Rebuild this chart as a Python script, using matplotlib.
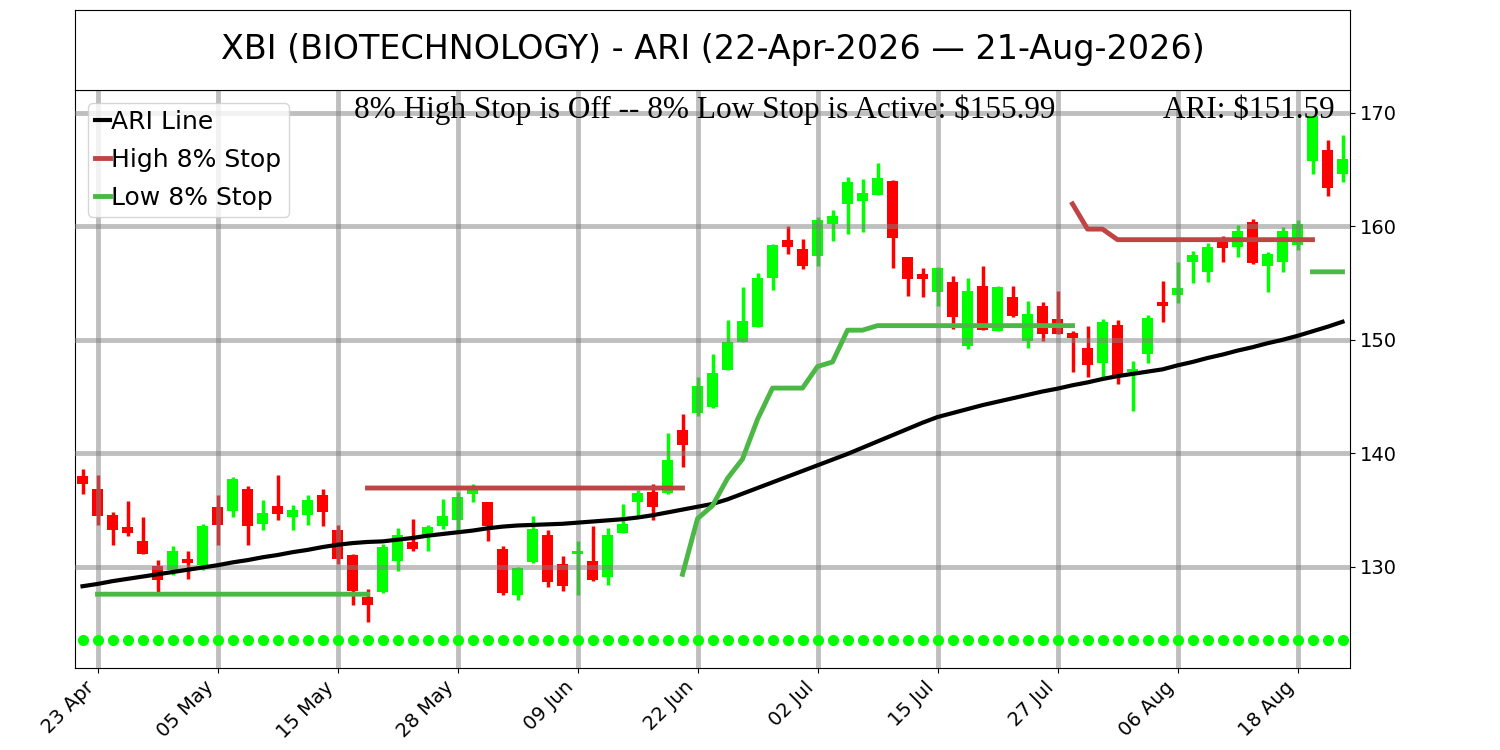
import numpy as np
import pandas as pd
import matplotlib
matplotlib.use('Agg')
import matplotlib.pyplot as plt

# trading days 22-Apr-2026 .. 21-Aug-2026 (US market holidays removed)
holidays = ['2026-05-25', '2026-06-19', '2026-07-03']
dates = pd.bdate_range('2026-04-22', '2026-08-21', freq='C', holidays=holidays)

title = 'XBI (BIOTECHNOLOGY) - ARI (22-Apr-2026 \u2014 21-Aug-2026)'

opens = [138.04, 136.89, 134.60, 133.55, 132.32, 130.12, 129.77, 130.73, 130.21, 135.25,
         134.90, 136.89, 133.81, 135.34, 134.37, 134.55, 136.36, 133.28, 131.03, 127.36,
         127.77, 130.56, 132.20, 132.79, 133.58, 134.16, 136.45, 135.72, 131.58, 127.51,
         130.41, 132.84, 130.29, 131.14, 130.56, 129.09, 132.99, 135.69, 136.57, 136.51,
         142.08, 143.55, 144.05, 147.37, 149.85, 151.17, 155.47, 158.83, 157.98, 157.40,
         160.18, 161.99, 162.19, 162.78, 163.95, 157.25, 155.79, 154.18, 155.09, 149.50,
         154.76, 150.79, 153.74, 149.94, 152.94, 151.85, 150.59, 149.32, 147.94, 151.32,
         147.15, 148.74, 153.29, 153.91, 156.82, 155.94, 158.68, 158.15, 160.38, 156.53,
         156.82, 158.32, 165.79, 166.76, 164.56]
highs = [138.65, 138.12, 134.84, 135.84, 134.43, 130.65, 131.88, 131.44, 133.81, 136.36,
         137.95, 137.16, 135.92, 138.12, 135.48, 136.36, 136.89, 133.67, 131.10, 128.09,
         132.02, 133.43, 134.25, 133.72, 136.01, 136.57, 137.33, 135.75, 131.88, 130.00,
         134.52, 133.28, 131.00, 132.32, 133.64, 133.43, 135.57, 136.80, 137.33, 141.79,
         143.49, 146.72, 148.77, 151.75, 154.68, 155.85, 158.45, 160.00, 158.92, 160.82,
         161.46, 164.33, 164.12, 165.58, 164.09, 157.30, 156.30, 156.38, 155.65, 155.44,
         156.53, 154.76, 154.76, 153.44, 153.29, 154.26, 150.82, 151.18, 151.85, 151.76,
         148.12, 152.21, 155.15, 156.85, 157.85, 158.53, 159.18, 160.15, 160.68, 157.74,
         159.91, 160.59, 169.75, 167.56, 168.00]
lows = [136.45, 133.67, 131.96, 132.70, 131.10, 127.77, 129.33, 128.97, 129.77, 131.96,
        134.37, 131.96, 133.28, 134.16, 133.28, 133.72, 133.58, 130.29, 126.69, 125.13,
        127.70, 129.68, 131.44, 131.44, 133.37, 133.20, 135.69, 132.26, 127.57, 127.13,
        130.35, 128.21, 127.86, 127.57, 128.80, 128.45, 132.95, 134.52, 134.16, 136.42,
        138.77, 143.26, 144.00, 147.30, 149.80, 151.10, 154.39, 157.54, 156.23, 156.52,
        158.71, 159.36, 159.50, 162.75, 156.29, 153.89, 153.81, 152.94, 150.97, 149.21,
        150.85, 150.75, 152.00, 149.32, 149.91, 150.50, 147.21, 146.71, 146.71, 146.09,
        143.76, 148.00, 151.53, 153.24, 155.00, 155.06, 156.82, 157.26, 156.68, 154.18,
        155.94, 157.94, 164.56, 162.65, 163.88]
closes = [137.30, 134.46, 133.23, 132.96, 131.14, 128.83, 131.44, 130.35, 133.64, 133.72,
          137.77, 133.58, 134.75, 134.69, 135.04, 135.92, 134.81, 130.70, 127.86, 126.69,
          131.76, 132.84, 131.61, 133.49, 134.52, 136.13, 136.80, 133.58, 127.71, 129.91,
          133.34, 128.65, 128.36, 131.44, 128.83, 132.84, 133.78, 136.51, 135.28, 139.44,
          140.76, 145.95, 147.07, 149.80, 151.67, 155.41, 158.39, 158.19, 156.52, 160.53,
          160.88, 163.89, 162.95, 164.27, 159.01, 155.32, 155.40, 156.32, 151.97, 154.32,
          150.88, 154.62, 152.06, 152.29, 150.50, 150.53, 150.15, 147.79, 151.56, 146.91,
          147.42, 151.91, 152.94, 154.56, 157.50, 158.15, 158.09, 159.56, 156.76, 157.56,
          159.62, 160.21, 169.71, 163.38, 165.88]

ari = [128.30, 128.50, 128.75, 128.95, 129.15, 129.35, 129.55, 129.75, 129.95, 130.15,
       130.40, 130.60, 130.85, 131.05, 131.30, 131.50, 131.75, 131.95, 132.10, 132.20,
       132.25, 132.40, 132.55, 132.75, 132.90, 133.05, 133.20, 133.40, 133.55, 133.65,
       133.70, 133.75, 133.80, 133.90, 134.00, 134.10, 134.20, 134.35, 134.55, 134.80,
       135.05, 135.30, 135.55, 135.95, 136.45, 136.95, 137.45, 137.95, 138.45, 138.95,
       139.45, 139.95, 140.50, 141.05, 141.60, 142.15, 142.70, 143.20, 143.55, 143.90,
       144.25, 144.55, 144.85, 145.15, 145.45, 145.70, 146.00, 146.25, 146.55, 146.80,
       147.00, 147.20, 147.40, 147.75, 148.05, 148.40, 148.70, 149.05, 149.35, 149.70,
       150.00, 150.35, 150.75, 151.15, 151.59]

n = np.nan
high_stop = [n, n, n, n, n, n, n, n, n, n,
             n, n, n, n, n, n, n, n, n, 136.95,
             136.95, 136.95, 136.95, 136.95, 136.95, 136.95, 136.95, 136.95, 136.95, 136.95,
             136.95, 136.95, 136.95, 136.95, 136.95, 136.95, 136.95, 136.95, 136.95, 136.95,
             136.95, n, n, n, n, n, n, n, n, n,
             n, n, n, n, n, n, n, n, n, n,
             n, n, n, n, n, n, 161.97, 159.75, 159.75, 158.82,
             158.82, 158.82, 158.82, 158.82, 158.82, 158.82, 158.82, 158.82, 158.82, 158.82,
             158.82, 158.82, 158.82, n, n]
low_stop = [n, 127.60, 127.60, 127.60, 127.60, 127.60, 127.60, 127.60, 127.60, 127.60,
            127.60, 127.60, 127.60, 127.60, 127.60, 127.60, 127.60, 127.60, 127.60, 127.60,
            n, n, n, n, n, n, n, n, n, n,
            n, n, n, n, n, n, n, n, n, n,
            129.35, 134.25, 135.40, 137.80, 139.50, 143.00, 145.75, 145.75, 145.75, 147.65,
            148.05, 150.85, 150.85, 151.25, 151.25, 151.25, 151.25, 151.25, 151.25, 151.25,
            151.25, 151.25, 151.25, 151.25, 151.25, 151.25, 151.25, n, n, n,
            n, n, n, n, n, n, n, n, n, n,
            n, n, 155.99, 155.99, 155.99]

dots_level = 123.6

x = np.arange(len(dates))
o = np.array(opens)
c = np.array(closes)
up = c >= o
colors = np.where(up, '#00ff00', '#ff0000')

fig = plt.figure(figsize=(15, 7.5), dpi=100)
ax = fig.add_axes([0.05, 0.10933, 0.85, 0.77067])

# candles
ax.vlines(x, lows, highs, colors=colors, linewidth=2.5, zorder=1)
ax.bar(x, np.abs(c - o), bottom=np.minimum(o, c), width=0.7, color=colors, zorder=1.5)

ax.plot(x, ari, color='black', linewidth=3, label='ARI Line', zorder=3)
ax.plot(x, high_stop, color='#bf4545', linewidth=3.5, label='High 8% Stop', zorder=3)
ax.plot(x, low_stop, color='#4bb846', linewidth=3.5, label='Low 8% Stop', zorder=3)
ax.plot(x, [dots_level] * len(x), 'o', color='#00ff00', markersize=7, zorder=3)

ax.set_xlim(-0.5, len(x) - 0.5)
ax.set_ylim(121.1, 172.0)

tick_idx = list(range(1, len(x), 8))
ax.set_xticks(tick_idx)
ax.set_xticklabels([dates[i].strftime('%d %b') for i in tick_idx],
                   rotation=45, ha='right', fontsize=14)
ax.yaxis.tick_right()
ax.set_yticks([130, 140, 150, 160, 170])
ax.tick_params(axis='y', labelsize=14)

ax.set_axisbelow(False)
ax.grid(True, color='gray', alpha=0.5, linewidth=3.5)

ax.legend(loc='upper left', fontsize=18, handlelength=0.6, handletextpad=0.05,
          labelspacing=0.55, borderpad=0.3)

low_last = [v for v in low_stop if not np.isnan(v)][-1]
ax.text(0.494, 0.9516, f'8% High Stop is Off -- 8% Low Stop is Active: ${low_last:.2f}',
        transform=ax.transAxes, ha='center', va='baseline', fontsize=22.5,
        family='Liberation Serif', zorder=4)
ax.text(0.988, 0.9516, f'ARI: ${ari[-1]:.2f}', transform=ax.transAxes,
        ha='right', va='baseline', fontsize=22.5, family='Liberation Serif', zorder=4)

# title box
tax = fig.add_axes([0.05, 0.88, 0.85, 0.10667])
tax.set_xticks([])
tax.set_yticks([])
tax.text(0.5, 0.5, title, ha='center', va='center', fontsize=24, transform=tax.transAxes)

fig.savefig('out.png', dpi=100)
